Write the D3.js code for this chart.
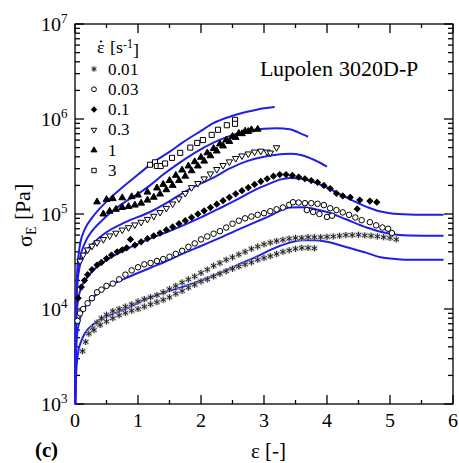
<!DOCTYPE html>
<meta charset="utf-8">
<style>
@font-face{font-family:"PlotSerif";src:local("Liberation Serif"),local("LiberationSerif"),local("Times New Roman");}
@font-face{font-family:"PlotSerif";font-weight:bold;src:local("Liberation Serif Bold"),local("LiberationSerif-Bold");}
</style>
<body style="margin:0">
<script src="https://d3js.org/d3.v7.min.js"></script>
<script>
// strain rates [1/s]
var rates = ["0.01","0.03","0.1","0.3","1","3"];
var xTicks = [0,1,2,3,4,5,6];
var yTicks = [1e3,1e4,1e5,1e6,1e7];

// measured data, [strain, stress Pa]
var data001a = [[0.12,3600],[0.17,4500],[0.22,5500],[0.28,6300],[0.35,7200],[0.42,8000],[0.5,8700],[0.6,9500],[0.7,10000],[0.8,10600],[0.9,11200],[1.0,12000],[1.1,12700],[1.2,13300],[1.3,14000],[1.4,15000],[1.5,16200],[1.6,17500],[1.7,19000],[1.8,20500],[1.9,22000],[2.0,24000],[2.1,26000],[2.2,28500],[2.3,30500],[2.4,33000],[2.5,35000],[2.6,37500],[2.7,40000],[2.8,43000],[2.9,45500],[3.0,48000],[3.1,50000],[3.2,52000],[3.3,53500],[3.4,55000],[3.5,56000],[3.6,56000],[3.7,57000],[3.8,57000],[3.9,57000],[4.0,57500],[4.1,58000],[4.2,59000],[4.3,60000],[4.4,60000],[4.5,60500],[4.6,59500],[4.7,59000],[4.8,58000],[4.9,57000],[5.0,56000],[5.1,54000]];
var data001b = [[0.3,6000],[0.4,6800],[0.5,7400],[0.6,8000],[0.7,8600],[0.8,9100],[0.9,9600],[1.0,10000],[1.1,10600],[1.2,11200],[1.3,11800],[1.4,12500],[1.5,13300],[1.6,14500],[1.7,15500],[1.8,16800],[1.9,18000],[2.0,19500],[2.1,20500],[2.2,22000],[2.3,23500],[2.4,25000],[2.5,26500],[2.6,28000],[2.7,29500],[2.8,31000],[2.9,33000],[3.0,34500],[3.1,36000],[3.2,38000],[3.3,40000],[3.4,41500],[3.5,43000],[3.6,44000],[3.7,44000],[3.8,43500]];
var data003 = [[0.04,7500],[0.08,9000],[0.13,10000],[0.2,11500],[0.27,13000],[0.35,15000],[0.42,16000],[0.5,17500],[0.6,18500],[0.7,20500],[0.8,23000],[0.9,25500],[1.0,27500],[1.1,29500],[1.2,30500],[1.3,32000],[1.4,33500],[1.5,35500],[1.6,38000],[1.7,41000],[1.8,45000],[1.9,49000],[2.0,54000],[2.1,58000],[2.2,62000],[2.3,66000],[2.4,72000],[2.5,79000],[2.6,85000],[2.7,90000],[2.8,94000],[2.9,98000],[3.0,102000],[3.1,107000],[3.2,112000],[3.3,117000],[3.4,125000],[3.46,133000],[3.55,132000],[3.65,130000],[3.75,130000],[3.85,128000],[3.95,124000],[3.68,110000],[3.78,105000],[3.88,100000],[4.0,93000],[4.08,96000],[4.05,115000],[4.15,110000],[4.25,104000],[4.35,98000],[4.45,92000],[4.55,86000],[4.68,82000],[4.78,76000],[4.88,72000],[4.97,70000],[5.03,63000]];
var data01 = [[0.05,13000],[0.1,17000],[0.15,20000],[0.2,23000],[0.27,26000],[0.35,29000],[0.42,31000],[0.5,34000],[0.58,37000],[0.67,40000],[0.75,42000],[0.82,44000],[0.88,54000],[0.95,47000],[1.05,51000],[1.15,55000],[1.25,59000],[1.35,63000],[1.45,68000],[1.55,73000],[1.65,79000],[1.75,85000],[1.85,92000],[1.95,100000],[2.05,108000],[2.15,117000],[2.25,127000],[2.35,138000],[2.45,150000],[2.55,163000],[2.65,176000],[2.75,190000],[2.85,205000],[2.95,220000],[3.05,235000],[3.15,250000],[3.25,260000],[3.35,260000],[3.45,255000],[3.55,245000],[3.65,235000],[3.75,225000],[3.85,215000],[3.95,200000],[4.05,185000],[4.15,165000],[4.25,155000],[4.37,150000],[4.48,113000],[4.52,140000],[4.68,137000],[4.79,133000]];
var data03 = [[0.08,32000],[0.13,37000],[0.2,42000],[0.27,46000],[0.35,50000],[0.45,54000],[0.55,59000],[0.65,63000],[0.75,68000],[0.85,72000],[0.95,77000],[1.05,82000],[1.15,88000],[1.25,95000],[1.35,104000],[1.45,115000],[1.55,128000],[1.65,145000],[1.75,165000],[1.85,190000],[1.95,210000],[2.05,235000],[2.15,265000],[2.25,295000],[2.35,325000],[2.45,355000],[2.55,385000],[2.65,410000],[2.75,430000],[2.85,450000],[2.95,460000],[3.05,450000],[3.1,440000],[3.2,500000]];
var data1a = [[0.35,134000],[0.5,142000],[0.6,145000],[0.75,148000],[0.9,152000],[1.0,158000],[1.15,170000],[1.3,188000],[1.4,205000],[1.5,225000],[1.6,255000],[1.7,290000],[1.8,320000],[1.9,355000],[2.0,395000],[2.1,440000],[2.2,490000],[2.3,545000],[2.4,600000],[2.5,655000],[2.6,705000],[2.7,745000],[2.8,770000],[2.9,780000]];
var data1b = [[0.45,100000],[0.55,107000],[0.65,112000],[0.75,117000],[0.85,120000],[0.95,124000],[1.05,130000],[1.15,140000],[1.25,150000],[1.35,162000],[1.45,180000],[1.55,200000],[1.65,225000],[1.75,250000],[1.85,285000],[1.95,320000],[2.05,360000],[2.15,410000],[2.25,460000],[2.35,520000],[2.45,580000],[2.55,640000],[2.65,700000],[2.75,740000]];
var data3 = [[1.19,330000],[1.27,350000],[1.3,320000],[1.36,320000],[1.43,340000],[1.54,390000],[1.67,440000],[1.83,500000],[1.94,560000],[2.03,600000],[2.17,680000],[2.27,770000],[2.41,860000],[2.54,980000],[2.54,890000]];

// model predictions
var fit001 = [[0.005,1000],[0.02,2200],[0.05,3500],[0.1,4600],[0.16,5600],[0.3,7000],[0.48,8200],[0.8,10000],[1.17,13000],[1.5,15500],[1.7,17000],[2.0,20000],[2.3,24000],[2.6,29500],[2.9,36000],[3.1,42000],[3.41,50000],[3.6,53000],[3.8,53000],[4.0,51000],[4.3,45000],[4.63,39000],[4.85,35000],[5.0,34000],[5.3,33000],[5.85,33000]];
var fit003 = [[0.004,1000],[0.015,2800],[0.03,5000],[0.08,8000],[0.16,10500],[0.3,13500],[0.48,16600],[0.8,21000],[1.19,27000],[1.5,33000],[1.7,38000],[2.0,46000],[2.3,56000],[2.6,69000],[2.9,84000],[3.1,96000],[3.25,108000],[3.41,117000],[3.6,118000],[3.8,113000],[4.0,105000],[4.3,88000],[4.63,72000],[4.85,65000],[5.0,62000],[5.3,59500],[5.85,59000]];
var fit01 = [[0.003,1000],[0.01,3200],[0.03,9800],[0.08,15500],[0.16,20000],[0.3,26000],[0.48,32000],[0.8,42000],[1.19,55000],[1.5,66000],[1.7,75000],[2.0,92000],[2.3,115000],[2.6,145000],[2.9,185000],[3.1,210000],[3.25,230000],[3.41,240000],[3.6,235000],[3.8,215000],[4.0,190000],[4.3,150000],[4.63,119000],[4.85,106000],[5.0,102000],[5.3,99000],[5.85,98000]];
var fit03 = [[0.002,1000],[0.01,4500],[0.03,16000],[0.08,29000],[0.16,39000],[0.3,50000],[0.48,63000],[0.8,82000],[1.19,105000],[1.45,130000],[1.67,160000],[1.9,195000],[2.19,240000],[2.45,300000],[2.73,360000],[3.0,400000],[3.2,420000],[3.41,430000],[3.6,415000],[3.8,370000],[4.0,315000]];
var fit1 = [[0.002,1000],[0.01,5000],[0.03,16000],[0.08,34000],[0.16,50000],[0.27,66000],[0.4,82000],[0.6,108000],[0.8,135000],[1.02,166000],[1.19,200000],[1.4,260000],[1.67,350000],[1.9,440000],[2.19,560000],[2.45,660000],[2.73,750000],[3.0,790000],[3.2,800000],[3.41,780000],[3.55,720000],[3.7,650000]];
var fit3 = [[0.002,1000],[0.01,6000],[0.03,22000],[0.08,48000],[0.16,70000],[0.27,91000],[0.5,135000],[0.75,190000],[1.0,260000],[1.27,360000],[1.5,450000],[1.7,560000],[2.0,750000],[2.19,900000],[2.5,1080000],[2.73,1190000],[3.0,1300000],[3.17,1340000]];

var W = 459, H = 463;
var FONT = "PlotSerif, 'Liberation Serif', 'Times New Roman', serif";
var svg = d3.select("body").append("svg").attr("width", W).attr("height", H);

var x = d3.scaleLinear().domain([0,6]).range([75,453]);
var y = d3.scaleLog().domain([1e3,1e7]).range([404,24]);

function txt(parent, size){
  return parent.append("text").attr("font-family", FONT).style("font-family", FONT).attr("font-size", size);
}

// axis frame and ticks, drawn by hand with the scales
var xMinor = xTicks.slice(0,-1).map(function(t){ return t+0.5; });
var yMinor = [];
yTicks.slice(0,-1).forEach(function(t){ for (var k=2;k<10;k++) yMinor.push(t*k); });

var ax = svg.append("g").attr("stroke","#000").attr("stroke-width",1.3);
ax.append("rect").attr("x",x(0)).attr("y",y(1e7)).attr("width",x(6)-x(0)).attr("height",y(1e3)-y(1e7)).attr("fill","none");
function vt(v,len){
  ax.append("line").attr("x1",x(v)).attr("x2",x(v)).attr("y1",y(1e3)).attr("y2",y(1e3)-len);
  ax.append("line").attr("x1",x(v)).attr("x2",x(v)).attr("y1",y(1e7)).attr("y2",y(1e7)+len);
}
function ht(v,len){
  ax.append("line").attr("y1",y(v)).attr("y2",y(v)).attr("x1",x(0)).attr("x2",x(0)+len);
  ax.append("line").attr("y1",y(v)).attr("y2",y(v)).attr("x1",x(6)).attr("x2",x(6)-len);
}
xTicks.forEach(function(t){ vt(t,9); });
xMinor.forEach(function(t){ vt(t,4); });
yTicks.forEach(function(t){ ht(t,9); });
yMinor.forEach(function(t){ ht(t,5); });

xTicks.forEach(function(t){
  txt(svg,20).attr("x",x(t)).attr("y",y(1e3)+23).attr("text-anchor","middle").text(t);
});
yTicks.forEach(function(t){
  var tt = txt(svg,20).attr("x",x(0)-7).attr("y",y(t)+6.5).attr("text-anchor","end");
  tt.append("tspan").text("10");
  tt.append("tspan").attr("dy","-0.55em").attr("font-size",13).text(Math.round(Math.log10(t)));
});

// model lines
var line = d3.line().x(d=>x(d[0])).y(d=>y(d[1])).curve(d3.curveMonotoneX);
[fit001,fit003,fit01,fit03,fit1,fit3].forEach(function(f){
  svg.append("path").attr("d", line(f)).attr("fill","none").attr("stroke","#1f1fe6").attr("stroke-width",2);
});

// symbols
var asterisk = {draw:function(c,size){
  var r = Math.sqrt(size)/2;
  for (var i=0;i<3;i++){
    var a = Math.PI/2 + i*Math.PI/3;
    c.moveTo(r*Math.cos(a), r*Math.sin(a));
    c.lineTo(-r*Math.cos(a), -r*Math.sin(a));
  }
}};
var styles = {
  "0.01": {type:asterisk, size:40, fill:"none", stroke:"#222", rot:0, halo:true},
  "0.03": {type:d3.symbolCircle, size:24, fill:"#fff", stroke:"#000", rot:0},
  "0.1":  {type:d3.symbolSquare, size:17, fill:"#000", stroke:"#000", rot:45},
  "0.3":  {type:d3.symbolTriangle, size:18, fill:"#fff", stroke:"#000", rot:180},
  "1":    {type:d3.symbolTriangle, size:20, fill:"#000", stroke:"#000", rot:0},
  "3":    {type:d3.symbolSquare, size:26, fill:"#fff", stroke:"#000", rot:0}
};

function drawMarks(g, pts, key){
  var s = styles[key];
  var m = g.selectAll("g").data(pts).enter().append("g")
    .attr("transform", d=>"translate("+x(d[0])+","+y(d[1])+")");
  if (s.halo) m.append("rect").attr("x",-3).attr("y",-3).attr("width",6).attr("height",6)
    .attr("fill","#bbb").attr("opacity",0.6);
  m.append("path").attr("d", d3.symbol().type(s.type).size(s.size)())
    .attr("transform","rotate("+s.rot+")")
    .attr("fill", s.fill).attr("stroke", s.stroke).attr("stroke-width", 1);
}

var series = [[data001a,"0.01"],[data001b,"0.01"],[data003,"0.03"],[data01,"0.1"],[data03,"0.3"],[data1a,"1"],[data1b,"1"],[data3,"3"]];
series.forEach(function(s){ drawMarks(svg.append("g"), s[0], s[1]); });

// legend
var lt = txt(svg,18).attr("x",97).attr("y",53);
lt.append("tspan").text("\u03B5 [s");
lt.append("tspan").attr("dy","-0.45em").attr("font-size",12).text("-1");
lt.append("tspan").attr("dy","0.45em").text("]");
svg.append("circle").attr("cx",101).attr("cy",41.5).attr("r",1.1).attr("fill","#000");
rates.forEach(function(r,i){
  var yy = 69 + i*20.3;
  var s = styles[r];
  var g = svg.append("g").attr("transform","translate(94,"+yy+")");
  if (s.halo) g.append("rect").attr("x",-2.5).attr("y",-2.5).attr("width",5).attr("height",5).attr("fill","#bbb").attr("opacity",0.6);
  g.append("path").attr("d", d3.symbol().type(s.type).size(s.size*0.75)())
    .attr("transform","rotate("+s.rot+")")
    .attr("fill", s.fill).attr("stroke", s.stroke).attr("stroke-width",1);
  txt(svg,17).attr("x",108).attr("y",yy+5.5).text(r);
});

txt(svg,22).attr("x",260).attr("y",76).text("Lupolen 3020D-P");

// axis titles
var yl = txt(svg,22).attr("transform","translate(32,215) rotate(-90)").attr("text-anchor","middle");
yl.append("tspan").text("\u03C3");
yl.append("tspan").attr("dy","0.3em").attr("font-size",14).text("E");
yl.append("tspan").attr("dy","-0.3em").text(" [Pa]");

txt(svg,21).attr("x",268).attr("y",458).attr("text-anchor","middle").text("\u03B5 [-]");
txt(svg,21).attr("x",35).attr("y",457).attr("font-weight","bold").text("(c)");
</script>
</body>
